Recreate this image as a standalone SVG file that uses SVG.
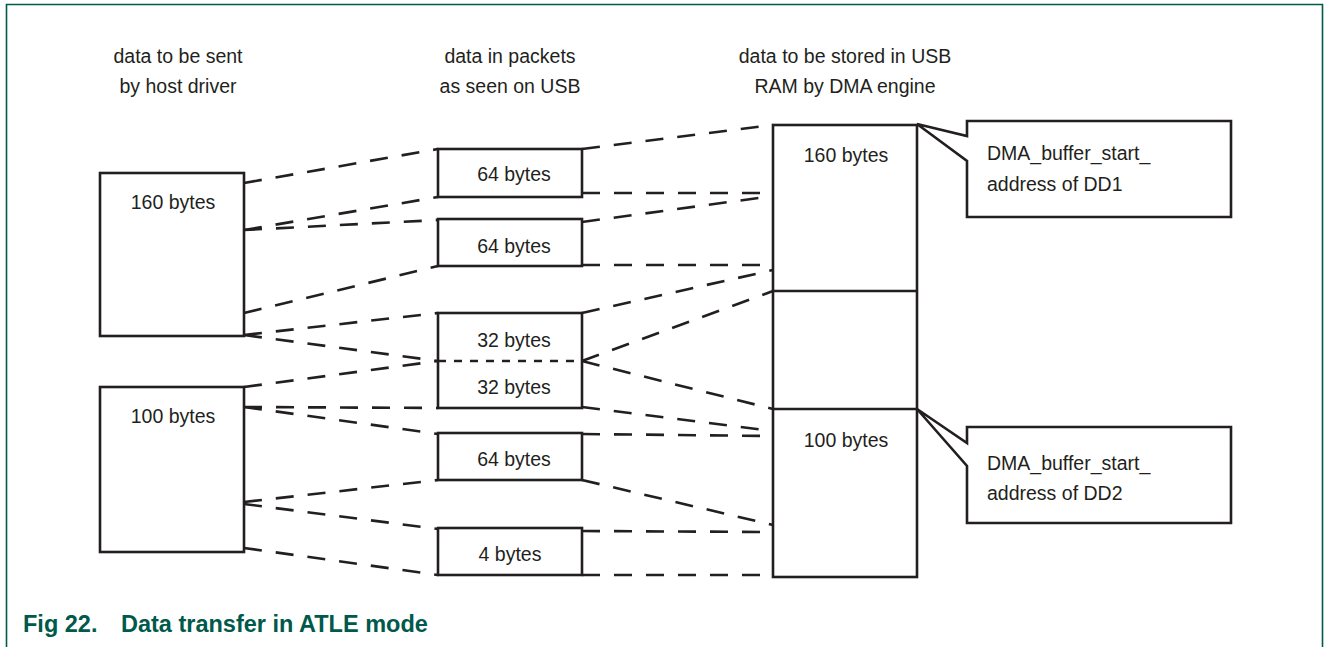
<svg xmlns="http://www.w3.org/2000/svg" width="1328" height="647" viewBox="0 0 1328 647">
<style>
.t{font-family:"Liberation Sans",Arial,sans-serif;font-size:19.5px;fill:#231f20}
.c{text-anchor:middle}
.box{fill:#fff;stroke:#231f20;stroke-width:2.6}
.dash{stroke:#231f20;stroke-width:2.6;stroke-dasharray:18 14;fill:none}
.dot{stroke:#231f20;stroke-width:2.4;stroke-dasharray:8 8;fill:none}
.frame{stroke:#00594a;stroke-width:1.6;fill:none}
.cap{font-family:"Liberation Sans",Arial,sans-serif;font-size:23.5px;font-weight:bold;fill:#00594a}
</style>
<rect width="1328" height="647" fill="#fff"/>
<path class="frame" d="M6.5,647 V4.5 H1322.5 V647"/>
<g id="headers">
<text class="t c" x="178" y="63">data to be sent</text>
<text class="t c" x="178" y="93">by host driver</text>
<text class="t c" x="510" y="63">data in packets</text>
<text class="t c" x="510" y="93">as seen on USB</text>
<text class="t c" x="845" y="63">data to be stored in USB</text>
<text class="t c" x="845" y="93">RAM by DMA engine</text>
</g>
<g id="connectors">
<line class="dash" x1="244" y1="183" x2="438" y2="149"/>
<line class="dash" x1="244" y1="230" x2="438" y2="197"/>
<line class="dash" x1="244" y1="230" x2="438" y2="220"/>
<line class="dash" x1="244" y1="313" x2="438" y2="266"/>
<line class="dash" x1="244" y1="335" x2="438" y2="313"/>
<line class="dash" x1="244" y1="335" x2="438" y2="361"/>
<line class="dash" x1="244" y1="387" x2="438" y2="361"/>
<line class="dash" x1="244" y1="407" x2="438" y2="408"/>
<line class="dash" x1="244" y1="407" x2="438" y2="434"/>
<line class="dash" x1="244" y1="502" x2="438" y2="480"/>
<line class="dash" x1="244" y1="504" x2="438" y2="529"/>
<line class="dash" x1="244" y1="548" x2="438" y2="575"/>
<line class="dash" x1="582" y1="149" x2="773" y2="125"/>
<line class="dash" x1="582" y1="193" x2="773" y2="193"/>
<line class="dash" x1="582" y1="222" x2="773" y2="196"/>
<line class="dash" x1="582" y1="265" x2="773" y2="265"/>
<line class="dash" x1="582" y1="313" x2="773" y2="270"/>
<line class="dash" x1="582" y1="361" x2="773" y2="291"/>
<line class="dash" x1="582" y1="361" x2="773" y2="409"/>
<line class="dash" x1="582" y1="407" x2="773" y2="431"/>
<line class="dash" x1="582" y1="434" x2="773" y2="436"/>
<line class="dash" x1="582" y1="480" x2="773" y2="525"/>
<line class="dash" x1="582" y1="531" x2="773" y2="532"/>
<line class="dash" x1="582" y1="575" x2="773" y2="575"/>
</g>
<g id="host160">
<rect class="box" x="100" y="173" width="144" height="163"/>
<text class="t c" x="173" y="209">160 bytes</text>
</g>
<g id="host100">
<rect class="box" x="100" y="387" width="144" height="165"/>
<text class="t c" x="173" y="423">100 bytes</text>
</g>
<g id="pkt1">
<rect class="box" x="438" y="149" width="144" height="48"/>
<text class="t c" x="514" y="181">64 bytes</text>
</g>
<g id="pkt2">
<rect class="box" x="438" y="219" width="144" height="47"/>
<text class="t c" x="514" y="253">64 bytes</text>
</g>
<g id="pkt3">
<rect class="box" x="438" y="313" width="144" height="95"/>
<line class="dot" x1="438" y1="361" x2="582" y2="361"/>
<text class="t c" x="514" y="347">32 bytes</text>
<text class="t c" x="514" y="394">32 bytes</text>
</g>
<g id="pkt4">
<rect class="box" x="438" y="433" width="144" height="47"/>
<text class="t c" x="514" y="466">64 bytes</text>
</g>
<g id="pkt5">
<rect class="box" x="438" y="528" width="144" height="47"/>
<text class="t c" x="510" y="561">4 bytes</text>
</g>
<g id="ram">
<rect class="box" x="773" y="125" width="144" height="452"/>
<line stroke="#231f20" stroke-width="2.6" x1="773" y1="291" x2="917" y2="291"/>
<line stroke="#231f20" stroke-width="2.6" x1="773" y1="409" x2="917" y2="409"/>
<text class="t c" x="846" y="162">160 bytes</text>
<text class="t c" x="846" y="447">100 bytes</text>
</g>
<g id="callout1">
<path class="box" d="M967,136 V121 H1231 V217 H967 V161 L917,124 Z"/>
<text class="t" x="987" y="160">DMA_buffer_start_</text>
<text class="t" x="987" y="191">address of DD1</text>
</g>
<g id="callout2">
<path class="box" d="M967,443 V427 H1231 V523 H967 V466 L917,409 Z"/>
<text class="t" x="987" y="470">DMA_buffer_start_</text>
<text class="t" x="987" y="500">address of DD2</text>
</g>
<g id="caption">
<text class="cap" x="23" y="632">Fig 22.</text>
<text class="cap" x="121" y="632">Data transfer in ATLE mode</text>
</g>
</svg>
